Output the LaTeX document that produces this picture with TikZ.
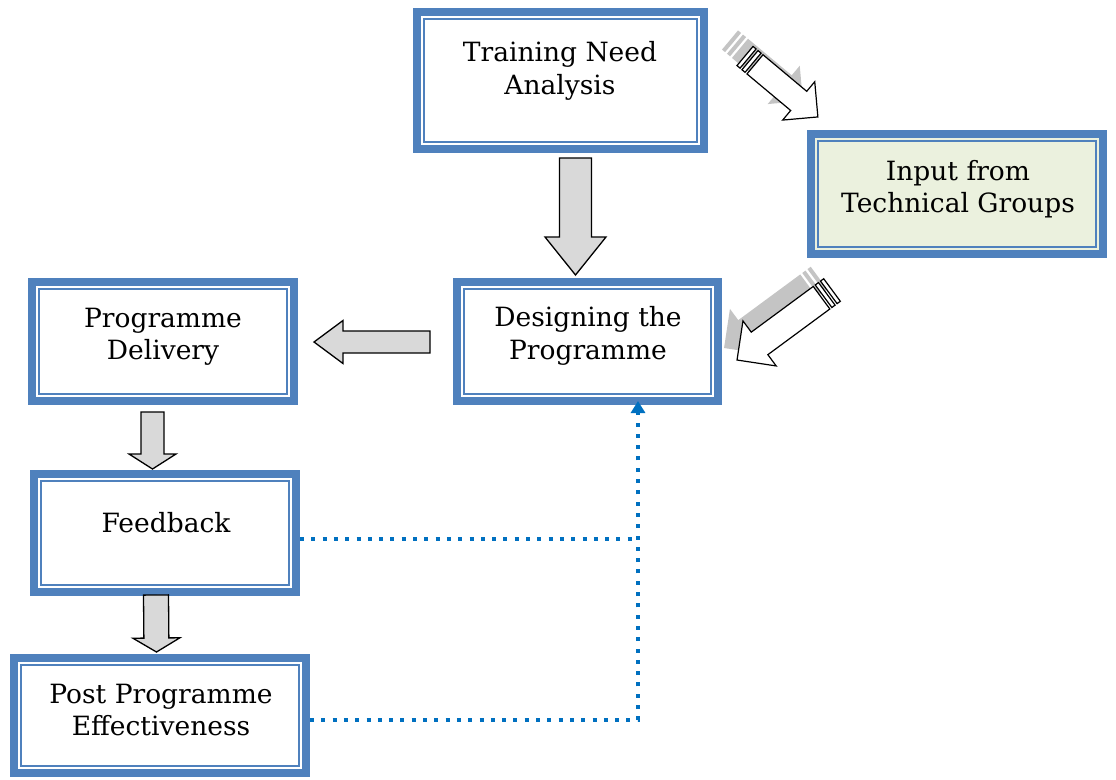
\documentclass[tikz,border=0pt]{standalone}
\usepackage{fontspec}
\setmainfont{DejaVu Serif}
\usetikzlibrary{calc,arrows.meta}
\definecolor{boxblue}{HTML}{4F81BD}
\definecolor{inpfill}{HTML}{EBF1DE}
\definecolor{arrgray}{HTML}{D9D9D9}
\definecolor{dotblue}{HTML}{0070C0}
\definecolor{shadowgray}{HTML}{C4C4C4}
\tikzset{
  box/.style={draw=boxblue, line width=8pt, fill=white, inner sep=0pt, outer sep=0pt},
  innerline/.style={draw=boxblue, line width=2pt},
  txt/.style={font=\fontsize{26.5}{32.5}\selectfont, align=center, inner sep=0pt},
  barr/.style={draw=black, line width=1.3pt, fill=arrgray, line join=miter},
  sarr/.style={draw=black, line width=1.2pt, fill=white, line join=miter},
  sshadow/.style={fill=shadowgray},
  dotline/.style={dotblue, line width=4pt, dash pattern=on 4pt off 7.3pt},
}
% block arrow: style, from, to, shaft half width, head half width, head length
\newcommand\blockarrow[6]{%
  \coordinate (ba-h) at ($(#3)!#6!(#2)$);
  \path[#1] ($(#2)!#4!90:(#3)$) -- ($(ba-h)!#4!90:(#3)$) -- ($(ba-h)!#5!90:(#3)$)
    -- (#3) -- ($(ba-h)!#5!-90:(#3)$) -- ($(ba-h)!#4!-90:(#3)$) -- ($(#2)!#4!-90:(#3)$) -- cycle;}
% striped arrow in local frame: length, shaft half, head half, head length, style
\newcommand\striparrow[5]{%
  \path[#5] (0,-#2) -- (4,-#2) -- (4,#2) -- (0,#2) -- cycle;
  \path[#5] (6.5,-#2) -- (10.5,-#2) -- (10.5,#2) -- (6.5,#2) -- cycle;
  \path[#5] (13,-#2) -- ({#1-#4},-#2) -- ({#1-#4},-#3) -- (#1,0) -- ({#1-#4},#3)
    -- ({#1-#4},#2) -- (13,#2) -- cycle;}
\newcommand\boxinner[1]{%
  \draw[innerline] ($(#1.north west)+(7,7)$) rectangle ($(#1.south east)+(-7,-7)$);}
\begin{document}
\begin{tikzpicture}[x=1pt,y=-1pt]
\useasboundingbox (0,0) rectangle (1116,779);
% boxes
\node[box, minimum width=287pt, minimum height=137pt] (tna) at (560.5,80.5) {};
\boxinner{tna}
\node[box, fill=inpfill, minimum width=292pt, minimum height=120pt] (inp) at (957,194) {};
\boxinner{inp}
\node[box, minimum width=261pt, minimum height=119pt] (des) at (587.5,341.5) {};
\boxinner{des}
\node[box, minimum width=262pt, minimum height=119pt] (del) at (163,341.5) {};
\boxinner{del}
\node[box, minimum width=262pt, minimum height=118pt] (fb) at (165,533) {};
\boxinner{fb}
\node[box, minimum width=292pt, minimum height=115pt] (ppe) at (160,715.5) {};
\boxinner{ppe}
% texts
\node[txt] (tnaT) at (560,71) {Training Need\\Analysis};
\node[txt] (inpT) at (958,189) {Input from\\Technical Groups};
\node[txt] (desT) at (588,336) {Designing the\\Programme};
\node[txt] (delT) at (163,337) {Programme\\Delivery};
\node[txt] (fbT) at (166,523) {Feedback};
\node[txt] (ppeT) at (161,710) {Post Programme\\Effectiveness};
% block arrows
\coordinate (a1s) at ($(tna.south)+(15,9)$);
\coordinate (a1e) at ($(des.north)+(-12,-7)$);
\blockarrow{barr}{a1s}{a1e}{16pt}{30.5pt}{38pt}
\coordinate (a2s) at ($(des.west)+(-27,0.5)$);
\coordinate (a2e) at ($(del.east)+(20,0.5)$);
\blockarrow{barr}{a2s}{a2e}{11pt}{21.5pt}{29pt}
\coordinate (a3s) at ($(del.south)+(-10.5,11)$);
\coordinate (a3e) at ($(fb.north)+(-12.5,-5)$);
\blockarrow{barr}{a3s}{a3e}{11.5pt}{23.5pt}{15pt}
\coordinate (a4s) at ($(fb.south)+(-9,3)$);
\coordinate (a4e) at ($(ppe.north)+(-3.5,-6)$);
\blockarrow{barr}{a4s}{a4e}{12.5pt}{23.5pt}{14pt}
% striped arrows
\begin{scope}[shift={(730,40)}, rotate=-39.9]
  \striparrow{95}{12.5}{25}{25}{sshadow}
\end{scope}
\begin{scope}[shift={(745,56)}, rotate=-39.9]
  \striparrow{95}{12.5}{25}{25}{sarr}
\end{scope}
\begin{scope}[shift={(819,278)}, rotate=-143.6]
  \striparrow{118}{14}{28}{28}{sshadow}
\end{scope}
\begin{scope}[shift={(832,290)}, rotate=-143.6]
  \striparrow{118}{14}{28}{28}{sarr}
\end{scope}
% dotted feedback lines
\coordinate (bus) at ($(des.south)+(50.5,0)$);
\coordinate (fbout) at ($(fb.east)+(4,6)$);
\coordinate (ppeout) at ($(ppe.east)+(4,4.5)$);
\draw[dotline] (fbout) -- (fbout -| bus);
\draw[dotline, -{Triangle[length=12pt,width=14pt]}] (ppeout) -| (bus);
\end{tikzpicture}
\end{document}
